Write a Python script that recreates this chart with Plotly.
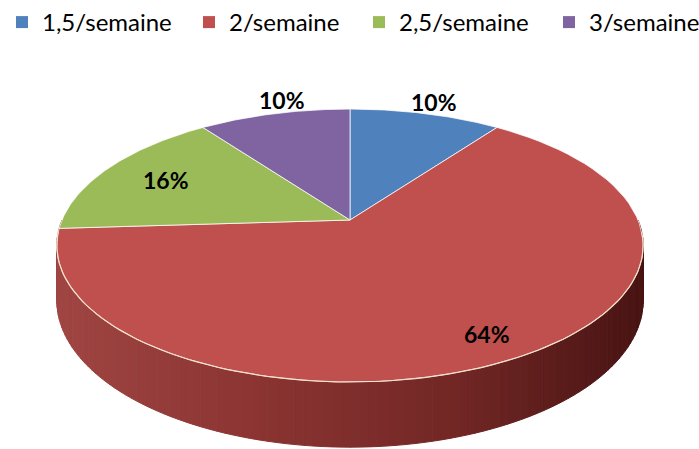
import numpy as np
import plotly.graph_objects as go

# Frequency shares
categories = ["1,5/semaine", "2/semaine", "2,5/semaine", "3/semaine"]
values = [10, 64, 16, 10]
colors = ["#4F81BD", "#C0504D", "#9BBB59", "#8064A2"]

W, H = 699, 449

# Projection of a tilted disc (pixel coordinates on the hidden axes)
CX, CY = 350.0, 220.0      # apex of the pie on screen
BX = 288.0                 # horizontal radius scale
AY = 131.7                 # depth scale
K = 0.187                  # perspective factor
DEPTH = 53.0               # thickness of the disc
LABEL_R = [1.13, 0.85, 0.75, 1.13]
LABEL_DPHI = [0, 0, 0, 3.5]
LEGEND_X = [2, 189, 359, 549]   # left edge of each legend entry, px


def proj(r, phi_deg, z=0.0):
    phi = np.radians(phi_deg)
    X = r * np.sin(phi)
    Y = r * np.cos(phi)
    s = 1.0 + K * Y
    return CX + BX * X / s, CY + (-AY * Y + DEPTH * z) / s


total = float(sum(values))
bounds = np.concatenate([[0.0], np.cumsum(values) / total * 360.0])

fig = go.Figure()


# Side wall of the disc (visible front part), drawn as shaded strips
def wall_color(x):
    stops = [(55, (160, 70, 67)), (250, (140, 53, 51)), (450, (115, 40, 38)), (645, (72, 20, 19))]
    for (x0, c0), (x1, c1) in zip(stops[:-1], stops[1:]):
        if x <= x1:
            t = max(0.0, (x - x0) / (x1 - x0))
            return "rgb(%d,%d,%d)" % tuple(int(a + (b - a) * t) for a, b in zip(c0, c1))
    return "rgb(%d,%d,%d)" % stops[-1][1]


steps = np.linspace(90, 270, 121)
for a0, a1 in zip(steps[:-1], steps[1:]):
    xt0, yt0 = proj(1, a0)
    xt1, yt1 = proj(1, a1)
    xb1, yb1 = proj(1, a1, 1)
    xb0, yb0 = proj(1, a0, 1)
    col = wall_color((xt0 + xt1) / 2)
    fig.add_trace(go.Scatter(
        x=[xt0, xt1, xb1, xb0, xt0], y=[yt0, yt1, yb1, yb0, yt0],
        mode="lines", fill="toself", fillcolor=col,
        line=dict(color=col, width=1), hoverinfo="skip", showlegend=False))

# Top faces of the slices
for i, (cat, v, c) in enumerate(zip(categories, values, colors)):
    a = np.linspace(bounds[i], bounds[i + 1], 80)
    px, py = proj(1, a)
    xs = np.concatenate([[CX], px, [CX]])
    ys = np.concatenate([[CY], py, [CY]])
    fig.add_trace(go.Scatter(
        x=xs, y=ys, mode="lines", fill="toself", fillcolor=c,
        line=dict(color="rgba(255,255,255,0.75)", width=1),
        name=cat, hoverinfo="name", showlegend=False))

# Light rim along the front edge
a = np.linspace(95, 265, 120)
rx, ry = proj(1, a)
fig.add_trace(go.Scatter(x=rx, y=ry, mode="lines",
                         line=dict(color="rgba(245,230,205,0.9)", width=1.2),
                         hoverinfo="skip", showlegend=False))

# Legend entries, one legend box per category
legend_layout = {}
for i, (cat, c) in enumerate(zip(categories, colors)):
    key = "legend" if i == 0 else "legend%d" % (i + 1)
    fig.add_trace(go.Scatter(x=[None], y=[None], mode="markers", name=cat,
                             legend=key,
                             marker=dict(symbol="square", size=12, color=c)))
    legend_layout[key] = dict(
        x=LEGEND_X[i] / W, y=1.0, xanchor="left", yanchor="top",
        orientation="h", bgcolor="rgba(0,0,0,0)", itemwidth=30,
        font=dict(family="Lato", size=24, color="black"))

# Percentage labels
for i, v in enumerate(values):
    mid = (bounds[i] + bounds[i + 1]) / 2 + LABEL_DPHI[i]
    lx, ly = proj(LABEL_R[i], mid)
    fig.add_annotation(x=lx, y=ly, text="<b>%d%%</b>" % round(v / total * 100),
                       showarrow=False, font=dict(family="Lato", size=23, color="black"))

fig.update_layout(
    width=W, height=H,
    margin=dict(l=0, r=0, t=0, b=0, autoexpand=False),
    paper_bgcolor="white", plot_bgcolor="white",
    xaxis=dict(range=[0, W], visible=False, fixedrange=True),
    yaxis=dict(range=[H, 0], visible=False, fixedrange=True),
    showlegend=True,
    font=dict(family="Lato"),
    **legend_layout,
)

fig.write_html("out.html")
